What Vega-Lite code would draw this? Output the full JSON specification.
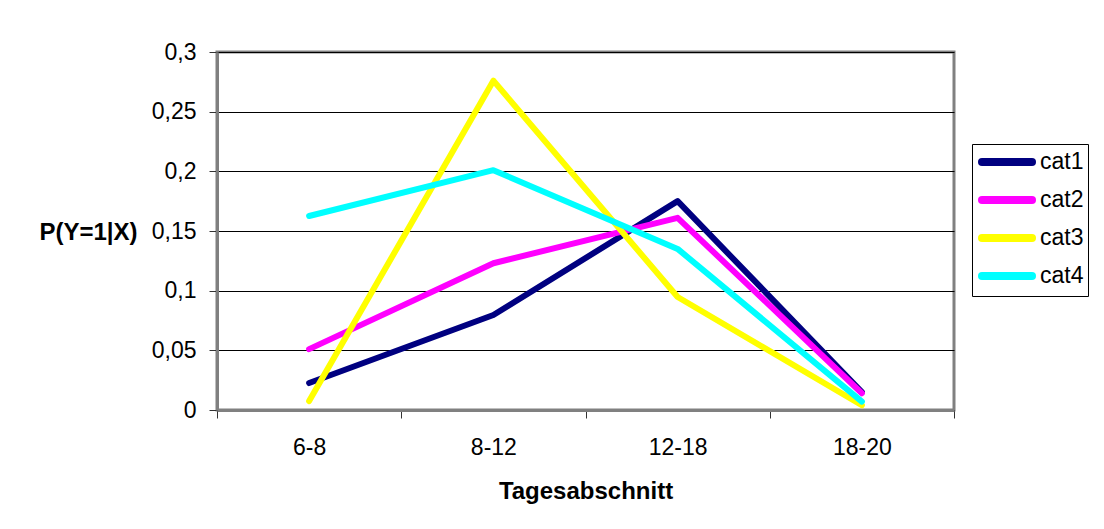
{
  "$schema": "https://vega.github.io/schema/vega-lite/v6.json",
  "width": 737,
  "height": 358,
  "autosize": {"type": "none"},
  "padding": {"left": 217, "top": 52, "right": 150, "bottom": 119},
  "background": "white",
  "config": {
    "locale": {"number": {"decimal": ",", "thousands": ".", "grouping": [3], "currency": ["", " €"]}},
    "view": {"stroke": "#808080", "strokeWidth": 3},
    "font": "Liberation Sans",
    "axis": {
      "labelFont": "Liberation Sans",
      "titleFont": "Liberation Sans",
      "labelFontSize": 23,
      "titleFontSize": 24,
      "labelColor": "black",
      "titleColor": "black",
      "titleFontWeight": "bold",
      "domainColor": "#808080",
      "domainWidth": 3,
      "tickColor": "#333333",
      "tickSize": 8,
      "tickWidth": 1
    }
  },
  "data": {
    "values": [
      {"cat": "cat1", "t": "6-8", "p": 0.0226},
      {"cat": "cat1", "t": "8-12", "p": 0.0796},
      {"cat": "cat1", "t": "12-18", "p": 0.175},
      {"cat": "cat1", "t": "18-20", "p": 0.015},
      {"cat": "cat2", "t": "6-8", "p": 0.051},
      {"cat": "cat2", "t": "8-12", "p": 0.123},
      {"cat": "cat2", "t": "12-18", "p": 0.161},
      {"cat": "cat2", "t": "18-20", "p": 0.014},
      {"cat": "cat3", "t": "6-8", "p": 0.0075},
      {"cat": "cat3", "t": "8-12", "p": 0.276},
      {"cat": "cat3", "t": "12-18", "p": 0.0947},
      {"cat": "cat3", "t": "18-20", "p": 0.004},
      {"cat": "cat4", "t": "6-8", "p": 0.1626},
      {"cat": "cat4", "t": "8-12", "p": 0.201},
      {"cat": "cat4", "t": "12-18", "p": 0.135},
      {"cat": "cat4", "t": "18-20", "p": 0.007}
    ]
  },
  "mark": {"type": "line", "strokeWidth": 6, "strokeCap": "round", "strokeJoin": "round"},
  "encoding": {
    "x": {
      "field": "t",
      "type": "ordinal",
      "sort": ["6-8", "8-12", "12-18", "18-20"],
      "scale": {"type": "band", "paddingInner": 0, "paddingOuter": 0},
      "axis": {
        "title": "Tagesabschnitt",
        "labelAngle": 0,
        "labelPadding": 18,
        "tickBand": "extent",
        "titlePadding": 20,
        "grid": false
      }
    },
    "y": {
      "field": "p",
      "type": "quantitative",
      "scale": {"domain": [0, 0.3], "nice": false, "zero": true},
      "axis": {
        "title": "P(Y=1|X)",
        "values": [0, 0.05, 0.1, 0.15, 0.2, 0.25, 0.3],
        "format": "~g",
        "grid": true,
        "gridColor": "black",
        "gridWidth": 1,
        "gridOpacity": 1,
        "labelPadding": 13,
        "titleAngle": 0,
        "titleAlign": "right",
        "titleBaseline": "middle",
        "titleX": -80,
        "titleY": 180
      }
    },
    "color": {
      "field": "cat",
      "type": "nominal",
      "scale": {"domain": ["cat1", "cat2", "cat3", "cat4"], "range": ["#000080", "#FF00FF", "#FFFF00", "#00FFFF"]},
      "legend": {
        "title": null,
        "orient": "none",
        "legendX": 755,
        "legendY": 92,
        "symbolType": "M-2.5,0H2.5",
        "symbolSize": 400,
        "symbolStrokeWidth": 8,
        "symbolOffset": 17,
        "labelFontSize": 23,
        "labelFont": "Liberation Sans",
        "labelColor": "black",
        "labelOffset": 19,
        "rowPadding": 6,
        "padding": 4,
        "strokeColor": "black",
        "fillColor": "white",
        "encode": {"symbols": {"update": {"strokeCap": {"value": "round"}}}}
      }
    }
  }
}
